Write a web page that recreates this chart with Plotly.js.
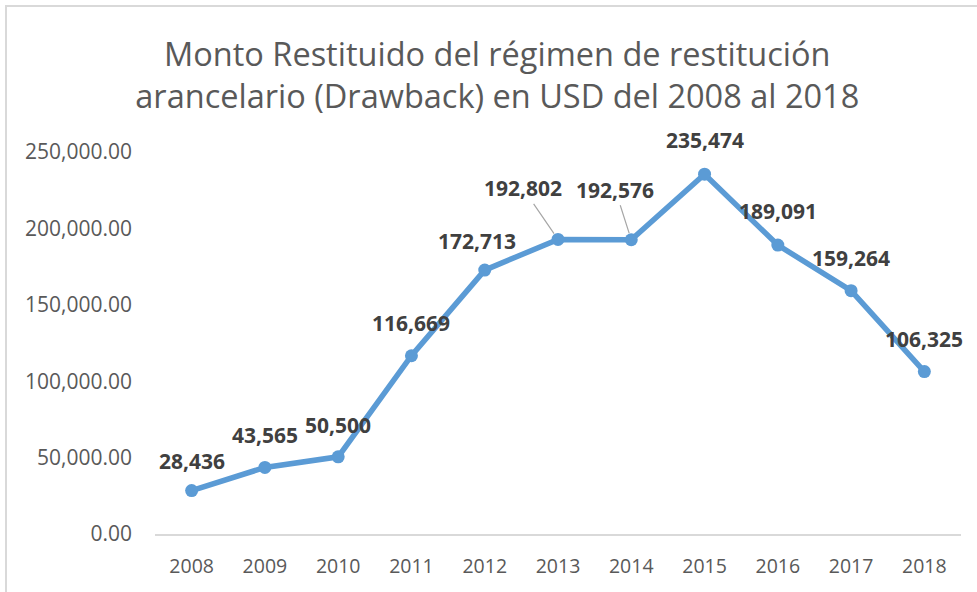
<!DOCTYPE html>
<html>
<head>
<meta charset="utf-8">
<script src="https://cdn.plot.ly/plotly-3.0.1.min.js"></script>
<style>
  html, body { margin: 0; padding: 0; background: #ffffff; }
  #wrap { position: relative; width: 977px; height: 592px; overflow: hidden; }
  #chart { width: 977px; height: 592px; }
  #frame { position: absolute; left: 5px; top: 5px; width: 1200px; height: 1200px;
           border-left: 2px solid #d9d9d9; border-top: 2px solid #d9d9d9; pointer-events: none; }
</style>
</head>
<body>
<div id="wrap">
  <div id="chart"></div>
  <div id="frame"></div>
</div>
<script>
// Data
const years = [2008, 2009, 2010, 2011, 2012, 2013, 2014, 2015, 2016, 2017, 2018];
const values = [28436, 43565, 50500, 116669, 172713, 192802, 192576, 235474, 189091, 159264, 106325];
const yTicks = [0, 50000, 100000, 150000, 200000, 250000];
const titleText = 'Monto Restituido del régimen de restitución<br>arancelario (Drawback) en USD del 2008 al 2018';

// Label placement (pixel offsets from each point)
const labelDx = [0, 0, 0, 0, -8, -35, -16, 0, 0, 0, 0];
const labelDy = [-30, -32, -32, -33, -29, -51, -50, -34, -34, -33, -33];
const labelLeader = [false, false, false, false, false, true, true, false, false, false, false];

const fontFam = '"Open Sans", "Liberation Sans", sans-serif';
const fmt = v => v.toLocaleString('en-US');

const annotations = years.map((yr, i) => {
  const base = {
    x: yr, y: values[i], xref: 'x', yref: 'y',
    text: '<b>' + fmt(values[i]) + '</b>',
    font: { family: fontFam, size: 21, color: '#404040' }
  };
  if (labelLeader[i]) {
    return Object.assign(base, {
      showarrow: true, ax: labelDx[i], ay: labelDy[i], axref: 'pixel', ayref: 'pixel',
      arrowhead: 0, arrowwidth: 1.2, arrowcolor: '#a6a6a6', standoff: 7
    });
  }
  return Object.assign(base, { showarrow: false, xshift: labelDx[i], yshift: -labelDy[i] });
});

const trace = {
  x: years, y: values, type: 'scatter', mode: 'lines+markers',
  line: { color: '#5B9BD5', width: 5.5 },
  marker: { color: '#5B9BD5', size: 13 },
  hoverinfo: 'skip'
};

const layout = {
  width: 977, height: 592,
  paper_bgcolor: '#ffffff', plot_bgcolor: '#ffffff',
  margin: { l: 155, r: 16, t: 152, b: 58 },
  showlegend: false,
  title: {
    text: titleText,
    font: { family: fontFam, size: 32.5, color: '#595959' },
    x: 0.509, xanchor: 'center', xref: 'container',
    y: 1 - 66 / 592, yanchor: 'middle', yref: 'container'
  },
  xaxis: {
    range: [2007.5, 2018.5], tickvals: years, ticktext: years.map(String),
    showgrid: false, zeroline: false, showline: true, linecolor: '#d9d9d9', linewidth: 1.5,
    ticks: '', ticklabelstandoff: 14,
    tickfont: { family: fontFam, size: 19.5, color: '#595959' }
  },
  yaxis: {
    range: [0, 250000], tickvals: yTicks, tickformat: ',.2f',
    showgrid: false, zeroline: false, showline: false, ticks: '',
    ticklabelstandoff: 22,
    tickfont: { family: fontFam, size: 21, color: '#595959' }
  },
  annotations: annotations
};

Plotly.newPlot('chart', [trace], layout, { displayModeBar: false, staticPlot: true });
</script>
</body>
</html>
